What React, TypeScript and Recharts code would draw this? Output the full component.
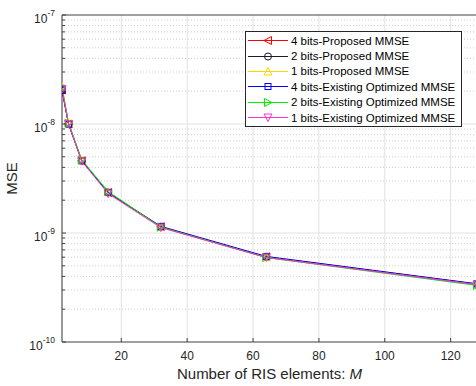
import React from "react";
import { LineChart, Line, XAxis, YAxis, CartesianGrid, Legend, ReferenceLine } from "recharts";

// number of RIS elements M
const elements = [2, 4, 8, 16, 32, 64, 128];

// MSE values (log scale)
const proposed4 = [2.05e-8, 1.0e-8, 4.6e-9, 2.35e-9, 1.14e-9, 6.05e-10, 3.4e-10];
const proposed2 = [2.05e-8, 1.0e-8, 4.6e-9, 2.35e-9, 1.14e-9, 6.0e-10, 3.38e-10];
const proposed1 = [2.2e-8, 1.02e-8, 4.65e-9, 2.38e-9, 1.15e-9, 6.05e-10, 3.4e-10];
const existing4 = [2.05e-8, 1.0e-8, 4.6e-9, 2.36e-9, 1.15e-9, 6.1e-10, 3.42e-10];
const existing2 = [2.2e-8, 1.02e-8, 4.7e-9, 2.4e-9, 1.13e-9, 5.95e-10, 3.3e-10];
const existing1 = [2.1e-8, 1.0e-8, 4.55e-9, 2.3e-9, 1.12e-9, 5.95e-10, 3.36e-10];

const xTicks = [20, 40, 60, 80, 100, 120];
const yTicks = [1e-10, 1e-9, 1e-8, 1e-7];
const yMinorTicks = [
  2e-10, 3e-10, 4e-10, 5e-10, 6e-10, 7e-10, 8e-10, 9e-10,
  2e-9, 3e-9, 4e-9, 5e-9, 6e-9, 7e-9, 8e-9, 9e-9,
  2e-8, 3e-8, 4e-8, 5e-8, 6e-8, 7e-8, 8e-8, 9e-8,
];
const yAllTicks = [...yTicks, ...yMinorTicks].sort((a, b) => a - b);

const series = [
  { key: "p4", name: "4 bits-Proposed MMSE", color: "#ff0000", shape: "left", values: proposed4 },
  { key: "p2", name: "2 bits-Proposed MMSE", color: "#1a1a33", shape: "circle", values: proposed2 },
  { key: "p1", name: "1 bits-Proposed MMSE", color: "#ffd400", shape: "up", values: proposed1 },
  { key: "e4", name: "4 bits-Existing Optimized MMSE", color: "#0000ff", shape: "square", values: existing4 },
  { key: "e2", name: "2 bits-Existing Optimized MMSE", color: "#00ee00", shape: "right", values: existing2 },
  { key: "e1", name: "1 bits-Existing Optimized MMSE", color: "#ff33cc", shape: "down", values: existing1 },
];

const data = elements.map((m, i) => {
  const row: any = { m };
  series.forEach((s) => {
    row[s.key] = s.values[i];
  });
  return row;
});

const FONT = "'Liberation Sans', Arial, Helvetica, sans-serif";
const AXIS = "#404040";

function Marker({ cx, cy, shape, color }: any) {
  if (cx == null || cy == null) return null;
  const p = { fill: "none", stroke: color, strokeWidth: 1 };
  switch (shape) {
    case "left":
      return <polygon {...p} points={`${cx - 4},${cy} ${cx + 3.5},${cy - 4} ${cx + 3.5},${cy + 4}`} />;
    case "right":
      return <polygon {...p} points={`${cx + 4},${cy} ${cx - 3.5},${cy - 4} ${cx - 3.5},${cy + 4}`} />;
    case "up":
      return <polygon {...p} points={`${cx},${cy - 4} ${cx - 4},${cy + 3.5} ${cx + 4},${cy + 3.5}`} />;
    case "down":
      return <polygon {...p} points={`${cx},${cy + 4} ${cx - 4},${cy - 3.5} ${cx + 4},${cy - 3.5}`} />;
    case "square":
      return <rect {...p} x={cx - 3} y={cy - 3} width={6} height={6} />;
    default:
      return <circle {...p} cx={cx} cy={cy} r={3.5} />;
  }
}

// tick label below the axis plus a short inward tick mark
const XTick = ({ x, y, payload }: any) => (
  <g>
    <line x1={x} x2={x} y1={y} y2={y - 4} stroke={AXIS} />
    <text x={x} y={y + 18} textAnchor="middle" fontSize={12} fill="#262626" fontFamily={FONT}>
      {payload.value}
    </text>
  </g>
);

const YTick = ({ x, y, payload }: any) => {
  const exp = Math.log10(payload.value);
  const major = Math.abs(exp - Math.round(exp)) < 1e-6;
  if (!major) {
    return <line x1={x} x2={x + 3} y1={y} y2={y} stroke={AXIS} />;
  }
  return (
    <g>
      <line x1={x} x2={x + 4} y1={y} y2={y} stroke={AXIS} />
      <text x={x - 7} y={y + 8} textAnchor="end" fontSize={12} fill="#262626" fontFamily={FONT}>
        10
        <tspan dy={-7} fontSize={8.5}>{Math.round(exp)}</tspan>
      </text>
    </g>
  );
};

const XLabel = ({ viewBox }: any) => (
  <text
    x={viewBox.x + viewBox.width / 2}
    y={viewBox.y + 37}
    textAnchor="middle"
    fontSize={15}
    fill="#262626"
    fontFamily={FONT}
  >
    Number of RIS elements: <tspan fontStyle="italic">M</tspan>
  </text>
);

const YLabel = ({ viewBox }: any) => {
  const cx = 17;
  const cy = viewBox.y + viewBox.height / 2;
  return (
    <text
      x={cx}
      y={cy}
      transform={`rotate(-90, ${cx}, ${cy})`}
      textAnchor="middle"
      fontSize={15}
      fill="#262626"
      fontFamily={FONT}
    >
      MSE
    </text>
  );
};

const renderLegend = (props: any) => {
  const payload = props.payload || [];
  const items = series.map((s) => ({ s, entry: payload.find((p: any) => p.dataKey === s.key) }));
  return (
    <div
      style={{
        border: "1px solid #262626",
        background: "#fff",
        padding: "1px 6px 1px 0",
        fontFamily: FONT,
        fontSize: 11.5,
        color: "#000",
      }}
    >
      {items.map(({ s, entry }) => (
        <div key={s.key} style={{ display: "flex", alignItems: "center", height: 15.4 }}>
          <svg width={45} height={15} style={{ display: "block" }}>
            <line x1={2} x2={42} y1={7.5} y2={7.5} stroke={s.color} strokeWidth={1} />
            <Marker cx={22} cy={7.5} shape={s.shape} color={s.color} />
          </svg>
          <span style={{ whiteSpace: "nowrap" }}>{entry ? entry.value : s.name}</span>
        </div>
      ))}
    </div>
  );
};

export default function App() {
  return (
    <div style={{ position: "absolute", left: 0, top: 0, width: 476, height: 386, overflow: "hidden", background: "#fff" }}>
      <LineChart width={480} height={386} data={data} margin={{ top: 15, right: 3, bottom: 0, left: 0 }}>
        <CartesianGrid horizontal={false} stroke="#e2e2e2" />
        {yMinorTicks.map((v) => (
          <ReferenceLine key={`minor-${v}`} y={v} stroke="#cfcfcf" strokeDasharray="1 2" />
        ))}
        {yTicks.slice(1, 3).map((v) => (
          <ReferenceLine key={`major-${v}`} y={v} stroke="#e2e2e2" />
        ))}
        <XAxis
          dataKey="m"
          type="number"
          domain={[2, 128]}
          ticks={xTicks}
          allowDataOverflow
          height={44}
          tickSize={0}
          tickMargin={0}
          tickLine={false}
          tick={<XTick />}
          stroke={AXIS}
          label={<XLabel />}
        />
        <YAxis
          scale="log"
          type="number"
          domain={[1e-10, 1e-7]}
          ticks={yAllTicks}
          interval={0}
          allowDataOverflow
          width={62}
          tickSize={0}
          tickMargin={0}
          tickLine={false}
          tick={<YTick />}
          stroke={AXIS}
          label={<YLabel />}
        />
        <ReferenceLine y={1e-7} stroke={AXIS} strokeWidth={1} />
        <Legend
          layout="vertical"
          align="center"
          verticalAlign="middle"
          content={renderLegend}
          wrapperStyle={{ left: 245, top: 31, width: "auto", height: "auto" }}
        />
        {series.map((s) => (
          <Line
            key={s.key}
            dataKey={s.key}
            name={s.name}
            stroke={s.color}
            strokeWidth={1}
            isAnimationActive={false}
            dot={(p: any) => <Marker key={`${s.key}-${p.index}`} cx={p.cx} cy={p.cy} shape={s.shape} color={s.color} />}
            activeDot={false}
          />
        ))}
      </LineChart>
    </div>
  );
}
